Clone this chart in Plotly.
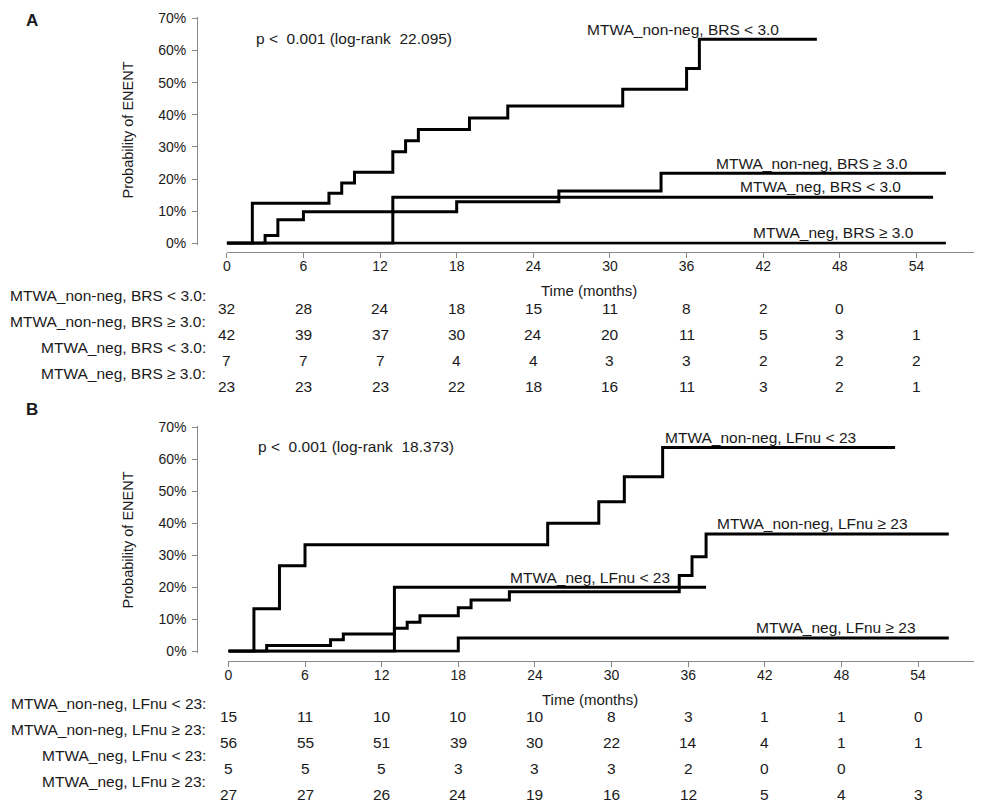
import plotly.graph_objects as go

# ---------------- data ----------------
ticks_months = [0, 6, 12, 18, 24, 30, 36, 42, 48, 54]

# Panel A: cumulative probability of ENENT (%), step curves
a_nonneg_lt_t = [0, 2, 8, 9, 10, 13, 14, 15, 19, 22, 31, 36, 37, 46.2]
a_nonneg_lt_p = [0, 12.5, 15.6, 18.8, 22.1, 28.5, 31.9, 35.4, 39.0, 42.7, 47.9, 54.4, 63.5, 63.5]
a_nonneg_ge_t = [0, 3, 4, 6, 18, 26, 34, 56.3]
a_nonneg_ge_p = [0, 2.4, 7.3, 9.8, 12.9, 16.3, 21.8, 21.8]
a_neg_lt_t = [0, 13, 55.3]
a_neg_lt_p = [0, 14.3, 14.3]
a_neg_ge_t = [0, 56.3]
a_neg_ge_p = [0, 0]

# Panel B
b_nonneg_lt_t = [0, 2, 4, 6, 25, 29, 31, 34, 52.2]
b_nonneg_lt_p = [0, 13.3, 26.7, 33.3, 40.0, 46.7, 54.5, 63.6, 63.6]
b_nonneg_ge_t = [0, 3, 8, 9, 13, 14, 15, 18, 19, 22, 35.3, 36.3, 37.4, 56.4]
b_nonneg_ge_p = [0, 1.8, 3.6, 5.4, 7.2, 9.1, 11.1, 13.6, 16.0, 18.6, 23.7, 29.5, 36.6, 36.6]
b_neg_lt_t = [0, 13, 37.4]
b_neg_lt_p = [0, 20.0, 20.0]
b_neg_ge_t = [0, 18, 56.4]
b_neg_ge_p = [0, 4.2, 4.2]

# group names
a_groups = ["MTWA_non-neg, BRS < 3.0", "MTWA_non-neg, BRS \u2265 3.0",
            "MTWA_neg, BRS < 3.0", "MTWA_neg, BRS \u2265 3.0"]
b_groups = ["MTWA_non-neg, LFnu < 23", "MTWA_non-neg, LFnu \u2265 23",
            "MTWA_neg, LFnu < 23", "MTWA_neg, LFnu \u2265 23"]

# numbers at risk
a_risk = [
    [32, 28, 24, 18, 15, 11, 8, 2, 0, None],
    [42, 39, 37, 30, 24, 20, 11, 5, 3, 1],
    [7, 7, 7, 4, 4, 3, 3, 2, 2, 2],
    [23, 23, 23, 22, 18, 16, 11, 3, 2, 1],
]
b_risk = [
    [15, 11, 10, 10, 10, 8, 3, 1, 1, 0],
    [56, 55, 51, 39, 30, 22, 14, 4, 1, 1],
    [5, 5, 5, 3, 3, 3, 2, 0, 0, None],
    [27, 27, 26, 24, 19, 16, 12, 5, 4, 3],
]

a_pvalue = "p <  0.001 (log-rank  22.095)"
b_pvalue = "p <  0.001 (log-rank  18.373)"

# ---------------- helpers ----------------
W, H = 982, 803
# measured mapping from figure pixels to the photographed page
AX0, BX = 11.8, 0.9965
AY0, BY = 14.7, 0.9825

def xp(X):
    return ((X - AX0) / BX) / W

def yp(Y):
    return 1 - ((Y - AY0) / BY) / H

FONT = "Liberation Sans, Arial, sans-serif"
TXT = "#1a1a1a"
AX = "#888888"
PXM = 12.78  # page pixels per month
FS = 15.5

fig = go.Figure()

def add_curves(t_lists, p_lists, xa, ya):
    for t, p in zip(t_lists, p_lists):
        fig.add_trace(go.Scatter(
            x=t, y=[v / 100 for v in p], mode="lines", line_shape="hv",
            line=dict(color="black", width=3), xaxis=xa, yaxis=ya,
            showlegend=False, hoverinfo="skip"))

add_curves([a_nonneg_lt_t, a_nonneg_ge_t, a_neg_lt_t, a_neg_ge_t],
           [a_nonneg_lt_p, a_nonneg_ge_p, a_neg_lt_p, a_neg_ge_p], "x", "y")
add_curves([b_nonneg_lt_t, b_nonneg_ge_t, b_neg_lt_t, b_neg_ge_t],
           [b_nonneg_lt_p, b_nonneg_ge_p, b_neg_lt_p, b_neg_ge_p], "x2", "y2")

def axes(x0px, y0px, y70px, yaxis_px, xline_px):
    pad = 0.004
    ppu = (y0px - y70px) / 0.7
    right = 980
    xr_end = (right - x0px) / PXM
    xa = dict(domain=[xp(x0px), xp(right)], range=[0, xr_end], anchor="free",
              position=yp(xline_px), showline=True, linecolor=AX, linewidth=1,
              ticks="outside", ticklen=5, tickcolor=AX, tickvals=ticks_months,
              showgrid=False, zeroline=False, ticklabelstandoff=-4,
              tickfont=dict(family=FONT, size=14, color=TXT))
    ya = dict(domain=[yp(y0px + pad * ppu), yp(y70px - pad * ppu)],
              range=[-pad, 0.7 + pad], anchor="free", position=xp(yaxis_px),
              showline=True, linecolor=AX, linewidth=1, ticks="outside",
              ticklen=5, tickcolor=AX, ticklabelstandoff=3,
              tickvals=[i / 10 for i in range(8)],
              ticktext=[f"{i*10}%" for i in range(8)],
              showgrid=False, zeroline=False,
              tickfont=dict(family=FONT, size=14, color=TXT))
    return xa, ya

xa1, ya1 = axes(226.7, 243, 18, 197, 252)
xa2, ya2 = axes(228.3, 651, 426.7, 197.3, 660.5)

ann = []

def txt(text, x, y, xref="paper", yref="paper", xanchor="center", size=FS,
        bold=False, angle=0):
    ann.append(dict(text=f"<b>{text}</b>" if bold else text, x=x, y=y,
                    xref=xref, yref=yref, xanchor=xanchor, yanchor="middle",
                    showarrow=False, textangle=angle, borderpad=0,
                    font=dict(family=FONT, size=size, color=TXT)))

# panel letters
txt("A", xp(32), yp(20), bold=True, size=17)
txt("B", xp(32), yp(409), bold=True, size=17)

# y titles
txt("Probability of ENENT", xp(128), yp(130), angle=-90, size=14.5)
txt("Probability of ENENT", xp(128), yp(540), angle=-90, size=14.5)

# p-values
txt(a_pvalue, xp(255), yp(38), xanchor="left")
txt(b_pvalue, xp(257), yp(446), xanchor="left")

# curve labels A
txt(a_groups[0], xp(683), yp(29))
txt(a_groups[1], xp(812), yp(163))
txt(a_groups[2], xp(821), yp(186))
txt(a_groups[3], xp(834), yp(232))
# curve labels B
txt(b_groups[0], xp(761), yp(437))
txt(b_groups[1], xp(813), yp(523))
txt(b_groups[2], xp(590), yp(577))
txt(b_groups[3], xp(836), yp(627))

# x titles
txt("Time (months)", xp(589), yp(290), size=15)
txt("Time (months)", xp(590), yp(699), size=15)

# risk tables
def risk(groups, table, xref, label_y0, num_y0):
    for i, (g, row) in enumerate(zip(groups, table)):
        txt(g + ":", xp(207), yp(label_y0 + 26 * i), xanchor="right")
        for t, v in zip(ticks_months, row):
            if v is None:
                continue
            txt(str(v), t, yp(num_y0 + 26 * i), xref=xref)

risk(a_groups, a_risk, "x", 295, 308.5)
risk(b_groups, b_risk, "x2", 703.3, 716.5)

fig.update_layout(
    width=W, height=H, margin=dict(l=0, r=0, t=0, b=0),
    paper_bgcolor="white", plot_bgcolor="white",
    xaxis=xa1, yaxis=ya1, xaxis2=xa2, yaxis2=ya2,
    annotations=ann, showlegend=False,
)

fig.write_html("out.html")
